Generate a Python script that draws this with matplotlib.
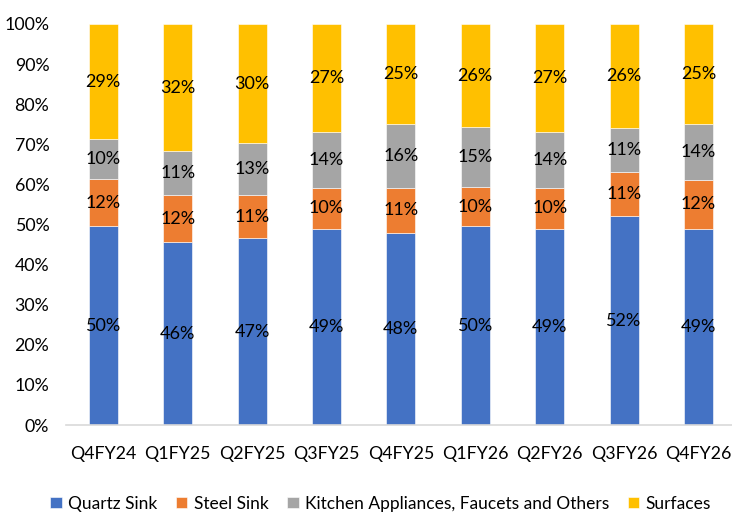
import numpy as np
import matplotlib
matplotlib.use("Agg")
import matplotlib.pyplot as plt
from matplotlib.ticker import PercentFormatter

plt.rcParams["font.family"] = ["Lato", "DejaVu Sans"]

quarters = ["Q4FY24", "Q1FY25", "Q2FY25", "Q3FY25", "Q4FY25",
            "Q1FY26", "Q2FY26", "Q3FY26", "Q4FY26"]
quartz_sink = [50, 46, 47, 49, 48, 50, 49, 52, 49]
steel_sink = [12, 12, 11, 10, 11, 10, 10, 11, 12]
kitchen_other = [10, 11, 13, 14, 16, 15, 14, 11, 14]
surfaces = [29, 32, 30, 27, 25, 26, 27, 26, 25]

series = [
    ("Quartz Sink", quartz_sink, "#4472C4"),
    ("Steel Sink", steel_sink, "#ED7D31"),
    ("Kitchen Appliances, Faucets and Others", kitchen_other, "#A5A5A5"),
    ("Surfaces", surfaces, "#FFC000"),
]

# 100% stacked: scale each quarter by its total
totals = np.sum([s[1] for s in series], axis=0)

fig = plt.figure(figsize=(7.32, 5.17), dpi=100)
ax = fig.add_axes([66 / 732, 1 - 425 / 517, 666 / 732, 401 / 517])

x = np.arange(len(quarters))
bottom = np.zeros(len(quarters))
for name, vals, color in series:
    share = np.array(vals) / totals * 100
    ax.bar(x, share, 0.39, bottom=bottom, color=color, label=name,
           edgecolor="white", linewidth=0.4)
    for xi, b, h, v in zip(x, bottom, share, vals):
        ax.text(xi, b + h / 2, f"{v}%", ha="center", va="center", fontsize=13)
    bottom += share

ax.set_ylim(0, 100)
ax.set_xlim(-0.5, 8.45)
ax.set_yticks(np.arange(0, 101, 10))
ax.yaxis.set_major_formatter(PercentFormatter(decimals=0))
ax.set_xticks(x)
ax.set_xticklabels(quarters)
ax.tick_params(axis="both", length=0, labelsize=12.8)
ax.tick_params(axis="x", pad=15)
ax.tick_params(axis="y", pad=12)

for side in ["top", "right", "left"]:
    ax.spines[side].set_visible(False)
ax.spines["bottom"].set_color("#D9D9D9")
ax.spines["bottom"].set_linewidth(1.2)

fig.legend(loc="lower center", ncol=4, frameon=False, fontsize=12.5,
           handlelength=0.65, handleheight=0.65, handletextpad=0.35,
           columnspacing=1.1, bbox_to_anchor=(0.52, -0.02))

plt.savefig("out.png", dpi=100)
